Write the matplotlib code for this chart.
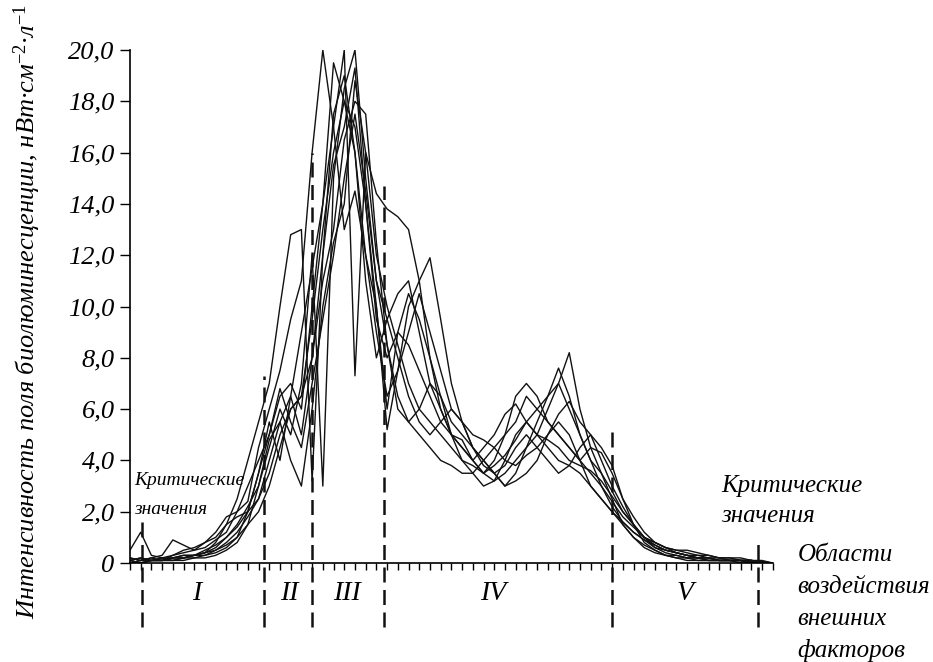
import numpy as np
import matplotlib.pyplot as plt

plt.rcParams['font.family'] = ['Liberation Serif', 'DejaVu Serif']
plt.rcParams['mathtext.fontset'] = 'custom'
plt.rcParams['mathtext.rm'] = 'Liberation Serif'
plt.rcParams['mathtext.it'] = 'Liberation Serif:italic'

# ---- data ----
x = np.arange(61)

s1 = [0.1, 0.2, 0.1, 0.1, 0.2, 0.3, 0.3, 0.4, 0.8, 1.5, 2.5, 4.0, 5.5, 7.0, 10.0, 12.8, 13.0, 3.2, 12.0, 17.5,
      19.0, 16.0, 11.0, 8.0, 9.5, 10.5, 11.0, 9.0, 7.0, 6.0, 5.0, 4.5, 4.0, 3.5, 3.8, 4.2, 4.8, 5.5, 5.0, 4.5,
      4.0, 3.8, 3.5, 3.0, 2.5, 2.0, 1.5, 1.0, 0.7, 0.5, 0.3, 0.2, 0.1, 0.1, 0.1, 0.1, 0.1, 0.1, 0.05, 0.0, 0.0]
s2 = [0.5, 1.2, 0.3, 0.2, 0.3, 0.4, 0.5, 0.8, 1.2, 1.8, 2.0, 2.4, 4.5, 6.0, 7.5, 9.5, 11.0, 16.0, 20.0, 17.0,
      13.0, 14.5, 12.0, 9.0, 6.5, 7.5, 9.0, 10.5, 9.0, 7.5, 6.0, 5.5, 5.0, 4.8, 4.5, 4.0, 3.8, 4.2, 4.5, 5.0,
      5.5, 5.0, 4.0, 3.0, 2.5, 2.0, 1.6, 1.2, 0.9, 0.6, 0.5, 0.4, 0.3, 0.3, 0.2, 0.2, 0.1, 0.1, 0.1, 0.05, 0.0]
s3 = [0.2, 0.1, 0.1, 0.2, 0.1, 0.2, 0.3, 0.5, 0.7, 1.0, 1.5, 2.2, 3.0, 4.5, 6.0, 5.0, 7.0, 12.0, 3.0, 15.0,
      18.5, 20.0, 15.0, 11.0, 8.5, 6.0, 5.5, 6.0, 7.0, 6.5, 5.0, 4.0, 3.5, 3.0, 3.2, 4.0, 5.0, 5.5, 6.0, 6.5,
      7.0, 6.0, 5.0, 4.0, 3.5, 2.5, 1.5, 1.0, 0.6, 0.4, 0.3, 0.2, 0.2, 0.1, 0.1, 0.1, 0.1, 0.1, 0.0, 0.0, 0.0]
s4 = [0.1, 0.0, 0.1, 0.1, 0.2, 0.2, 0.3, 0.4, 0.6, 1.0, 1.4, 2.0, 3.5, 5.5, 4.0, 6.5, 9.0, 11.5, 14.0, 17.0,
      20.0, 7.3, 16.0, 14.4, 13.8, 13.5, 13.0, 11.0, 8.0, 6.0, 5.0, 4.5, 4.0, 4.5, 5.0, 5.8, 6.2, 5.5, 5.0, 4.8,
      4.5, 4.0, 3.8, 3.6, 3.2, 2.6, 2.0, 1.5, 1.0, 0.7, 0.5, 0.4, 0.3, 0.2, 0.2, 0.1, 0.1, 0.1, 0.1, 0.0, 0.0]
s5 = [0.0, 0.1, 0.1, 0.2, 0.2, 0.3, 0.3, 0.4, 0.5, 0.8, 1.2, 1.8, 2.5, 4.0, 5.5, 6.5, 5.0, 8.0, 12.0, 15.5,
      17.0, 19.3, 14.0, 10.0, 5.2, 7.5, 10.0, 11.0, 11.9, 9.5, 7.0, 5.5, 4.5, 4.0, 3.5, 3.0, 3.5, 4.5, 5.5, 6.5,
      7.6, 6.5, 5.0, 4.0, 3.0, 2.4, 1.8, 1.4, 1.0, 0.8, 0.6, 0.5, 0.4, 0.3, 0.3, 0.2, 0.2, 0.2, 0.1, 0.05, 0.0]
s6 = [0.0, 0.1, 0.2, 0.1, 0.3, 0.5, 0.6, 0.8, 1.0, 1.5, 1.8, 2.0, 2.5, 3.5, 5.0, 6.0, 6.5, 9.5, 13.0, 16.0,
      18.0, 17.0, 14.0, 9.5, 8.0, 9.0, 8.5, 7.5, 6.5, 5.5, 5.0, 4.8, 4.0, 3.5, 3.2, 3.5, 4.0, 4.5, 5.0, 6.0,
      7.0, 8.2, 6.0, 4.5, 3.5, 2.8, 2.0, 1.5, 1.0, 0.8, 0.6, 0.5, 0.5, 0.4, 0.3, 0.2, 0.2, 0.1, 0.1, 0.1, 0.0]
s7 = [0.1, 0.0, 0.1, 0.1, 0.1, 0.2, 0.2, 0.3, 0.5, 0.7, 1.0, 1.5, 2.0, 3.0, 4.5, 6.0, 6.5, 8.0, 11.0, 13.0,
      16.5, 18.0, 17.5, 12.5, 8.5, 6.5, 5.5, 5.0, 4.5, 4.0, 3.8, 3.5, 3.5, 4.0, 4.5, 5.0, 5.5, 6.5, 6.0, 5.5,
      5.0, 4.5, 4.0, 4.5, 4.3, 3.5, 2.5, 1.8, 1.2, 0.8, 0.6, 0.4, 0.3, 0.2, 0.2, 0.1, 0.1, 0.1, 0.1, 0.0, 0.0]
s8 = [0.2, 0.1, 0.2, 0.3, 0.9, 0.7, 0.5, 0.6, 0.9, 1.2, 2.0, 3.0, 4.0, 5.0, 6.5, 7.0, 6.0, 10.0, 14.0, 19.5,
      18.0, 16.0, 12.0, 10.0, 6.0, 9.0, 10.5, 9.5, 8.0, 6.5, 5.5, 5.0, 4.5, 4.0, 3.5, 3.0, 3.2, 3.5, 4.0, 5.0,
      5.8, 6.3, 5.5, 5.0, 4.0, 3.0, 2.2, 1.5, 1.0, 0.6, 0.4, 0.3, 0.2, 0.2, 0.1, 0.1, 0.1, 0.0, 0.0, 0.0, 0.0]
s9 = [0.0, 0.0, 0.1, 0.1, 0.2, 0.2, 0.3, 0.3, 0.4, 0.6, 1.0, 2.0, 3.5, 5.0, 6.8, 5.5, 4.5, 7.0, 9.5, 12.0,
      15.0, 17.5, 14.5, 11.0, 9.5, 8.0, 6.5, 5.5, 5.0, 5.5, 6.0, 5.5, 4.5, 3.8, 3.5, 3.8, 4.5, 5.0, 4.5, 4.0,
      3.5, 3.8, 4.5, 5.0, 4.5, 3.8, 2.5, 1.5, 0.8, 0.5, 0.3, 0.3, 0.2, 0.2, 0.1, 0.1, 0.1, 0.1, 0.0, 0.0, 0.0]
s10 = [0.1, 0.2, 0.1, 0.1, 0.1, 0.1, 0.2, 0.2, 0.3, 0.5, 0.8, 1.5, 3.0, 4.8, 5.5, 4.0, 3.0, 6.0, 10.0, 12.5,
       14.0, 18.8, 16.0, 12.0, 10.0, 8.5, 7.0, 6.0, 5.5, 5.0, 4.5, 4.0, 3.8, 3.5, 4.0, 5.0, 6.5, 7.0, 6.5, 5.5,
       5.0, 4.5, 4.0, 3.5, 3.0, 2.2, 1.6, 1.2, 0.9, 0.7, 0.5, 0.4, 0.3, 0.2, 0.2, 0.1, 0.1, 0.1, 0.1, 0.05, 0.0]
series = [s1, s2, s3, s4, s5, s6, s7, s8, s9, s10]

# region borders (x position, top of the dashed line)
borders = [1.1, 12.5, 17.0, 23.7, 45.0, 58.6]
border_tops = [1.6, 7.3, 16.0, 14.7, 5.4, 0.9]
regions = ['I', 'II', 'III', 'IV', 'V']
region_x = [6.2, 14.9, 20.3, 33.9, 51.8]

yticks = np.arange(0, 21, 2)
yticklabels = ['0'] + [('%.1f' % v).replace('.', ',') for v in yticks[1:]]

fig = plt.figure(figsize=(9.33, 6.62), dpi=100)
ax = fig.add_axes([0.1393, 0.1495, 0.689, 0.775])

for s in series:
    ax.plot(x, s, color='#111111', lw=1.0)

for b, t in zip(borders, border_tops):
    ax.plot([b, b], [-2.5, t], color='#111111', lw=1.8, ls=(0, (6, 3)), clip_on=False)

for r, rx in zip(regions, region_x):
    ax.text(rx, -1.2, r, ha='center', va='center', fontsize=20, style='italic')

ax.set_xlim(0, 60)
ax.set_ylim(0, 20)
ax.set_xticks(x)
ax.set_xticklabels([])
ax.tick_params(axis='x', direction='out', length=5, width=1)
ax.set_yticks(yticks)
ax.set_yticklabels(yticklabels, fontsize=19, style='italic')
ax.tick_params(axis='y', direction='out', length=7, width=1, pad=4)
for sp in ['top', 'right']:
    ax.spines[sp].set_visible(False)
for sp in ['left', 'bottom']:
    ax.spines[sp].set_linewidth(1.2)

ax.set_ylabel(r'Интенсивность поля биолюминесценции, нВт·см$^{-2}$·л$^{-1}$',
              fontsize=19, style='italic')
ax.yaxis.set_label_coords(-0.135, 0.49)

ax.text(0.4, 3.05, 'Критические', fontsize=14, style='italic')
ax.text(0.4, 1.9, 'значения', fontsize=14, style='italic')
ax.text(55.2, 2.75, 'Критические', fontsize=18, style='italic')
ax.text(55.2, 1.6, 'значения', fontsize=18, style='italic')

for i, w in enumerate(['Области', 'воздействия', 'внешних', 'факторов']):
    ax.text(62.3, 0.3 - i * 1.24, w, fontsize=18, style='italic', va='center', clip_on=False)

fig.savefig('out.png', dpi=100)
